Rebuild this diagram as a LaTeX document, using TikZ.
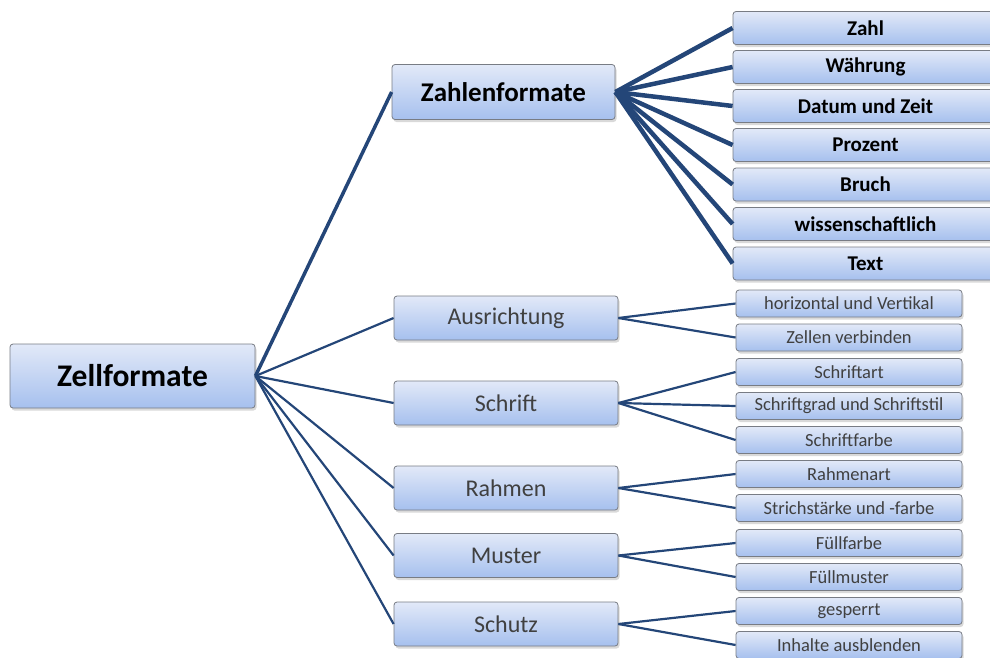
\documentclass[tikz,border=0pt]{standalone}
\usepackage{fontspec}
\setmainfont{Carlito}
\usetikzlibrary{shadows}
\definecolor{edgeblue}{RGB}{36,70,120}
\definecolor{boxline}{RGB}{120,124,132}
\definecolor{boxtop}{RGB}{226,233,248}
\definecolor{boxbot}{RGB}{166,192,238}
\definecolor{txtgray}{RGB}{64,64,64}
\tikzset{
  box/.style={draw=boxline, line width=0.8pt, rounded corners=3pt,
    top color=boxtop, bottom color=boxbot, inner sep=0pt, anchor=center,
    drop shadow={shadow xshift=1.5pt, shadow yshift=-2.5pt, opacity=0.3}},
  rootbox/.style={box, minimum width=245pt, minimum height=64pt, font=\fontsize{31.5}{33}\selectfont\bfseries},
  headbox/.style={box, minimum width=223pt, minimum height=55pt, font=\fontsize{27}{29}\selectfont\bfseries},
  typebox/.style={box, minimum width=265pt, minimum height=33pt, font=\fontsize{21}{23}\selectfont\bfseries},
  groupbox/.style={box, minimum width=224pt, minimum height=44pt, text=txtgray, font=\fontsize{24}{26}\selectfont},
  leafbox/.style={box, minimum width=226pt, minimum height=27pt, text=txtgray, font=\fontsize{18.5}{20}\selectfont},
  thickedge/.style={draw=edgeblue, line width=4.5pt},
  midedge/.style={draw=edgeblue, line width=3.5pt},
  thinedge/.style={draw=edgeblue, line width=2.2pt},
}
\begin{document}
\begin{tikzpicture}[x=1pt,y=1pt]
\useasboundingbox (0,0) rectangle (990,-657);
\clip (0,0) rectangle (990,-657);

% root and second level
\node[rootbox]  (root) at (132.5,-376) {Zellformate};
\node[headbox]  (zf)   at (503.5,-92)  {Zahlenformate};
\node[groupbox] (aus)  at (506,-318)   {Ausrichtung};
\node[groupbox] (sch)  at (506,-403)   {Schrift};
\node[groupbox] (rah)  at (506,-488)   {Rahmen};
\node[groupbox] (mus)  at (506,-555.5) {Muster};
\node[groupbox] (schu) at (506,-624)   {Schutz};

% number formats
\node[typebox] (zahl) at (865.5,-28)  {Zahl};
\node[typebox] (wae)  at (865.5,-67)  {Währung};
\node[typebox] (dat)  at (865.5,-106) {Datum und Zeit};
\node[typebox] (pro)  at (865.5,-145) {Prozent};
\node[typebox] (bru)  at (865.5,-184.5) {Bruch};
\node[typebox] (wis)  at (865.5,-224) {wissenschaftlich};
\node[typebox] (txt)  at (865.5,-263.5) {Text};

% detail boxes
\node[leafbox] (hv)   at (849,-303.5) {horizontal und Vertikal};
\node[leafbox] (zv)   at (849,-337.5) {Zellen verbinden};
\node[leafbox] (sa)   at (849,-372)   {Schriftart};
\node[leafbox] (sg)   at (849,-406)   {Schriftgrad und Schriftstil};
\node[leafbox] (sf)   at (849,-440)   {Schriftfarbe};
\node[leafbox] (ra)   at (849,-474)   {Rahmenart};
\node[leafbox] (st)   at (849,-508)   {Strichstärke und -farbe};
\node[leafbox] (ff)   at (849,-543)   {Füllfarbe};
\node[leafbox] (fm)   at (849,-577)   {Füllmuster};
\node[leafbox] (ge)   at (849,-611)   {gesperrt};
\node[leafbox] (ia)   at (849,-645)   {Inhalte ausblenden};

% connectors
\draw[midedge] (root.east) -- (zf.west);
\foreach \t in {aus,sch,rah,mus,schu}
  \draw[thinedge] (root.east) -- (\t.west);
\foreach \t in {zahl,wae,dat,pro,bru,wis,txt}
  \draw[thickedge] (zf.east) -- (\t.west);
\foreach \t in {hv,zv} \draw[thinedge] (aus.east) -- (\t.west);
\foreach \t in {sa,sg,sf} \draw[thinedge] (sch.east) -- (\t.west);
\foreach \t in {ra,st} \draw[thinedge] (rah.east) -- (\t.west);
\foreach \t in {ff,fm} \draw[thinedge] (mus.east) -- (\t.west);
\foreach \t in {ge,ia} \draw[thinedge] (schu.east) -- (\t.west);
\end{tikzpicture}
\end{document}
